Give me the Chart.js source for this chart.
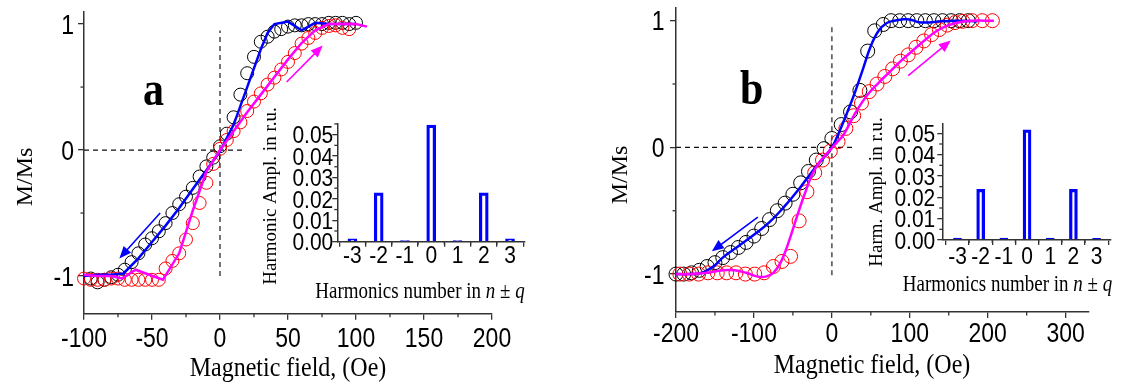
<!DOCTYPE html>
<html>
<head>
<meta charset="utf-8">
<script src="https://cdn.jsdelivr.net/npm/chart.js@4.4.1/dist/chart.umd.min.js"></script>
<style>
  html, body { margin: 0; padding: 0; background: #fff; }
  #wrap { position: relative; width: 1121px; height: 388px; overflow: hidden; }
  canvas { position: absolute; }
</style>
</head>
<body>
<div id="wrap">
  <canvas id="mainA" width="540" height="388" style="left:0px;top:0px"></canvas>
  <canvas id="mainB" width="561" height="388" style="left:560px;top:0px"></canvas>
  <canvas id="insetA" width="290" height="220" style="left:250px;top:100px"></canvas>
  <canvas id="insetB" width="261" height="220" style="left:860px;top:100px"></canvas>
</div>
<script>
// --- DATA : panneau a ---
const aBlackX = [-95,-90,-85,-80,-75,-70,-65,-60,-55,-50,-45,-40,-35,-30,-25,-20,-15,-10,-5,0,5,10,15,20,25,30,35,40,45,50,55,60,65,70,75,80,85,90,95,100];
const aBlackY = [-1.02,-1.05,-1.03,-1.01,-0.99,-0.95,-0.89,-0.82,-0.75,-0.70,-0.645,-0.58,-0.50,-0.43,-0.37,-0.30,-0.21,-0.13,-0.06,0.03,0.13,0.26,0.44,0.61,0.74,0.86,0.90,0.94,0.96,0.98,0.99,0.99,1.0,1.0,1.0,1.01,1.01,1.01,1.0,1.01];
const aRedX = [-100,-95,-90,-85,-80,-75,-70,-65,-60,-55,-50,-45,-40,-35,-30,-25,-20,-15,-10,-5,0,5,10,15,20,25,30,35,40,45,50,55,60,65,70,75,80,85,90,95];
const aRedY = [-1.02,-1.03,-1.03,-1.03,-1.02,-1.02,-1.03,-1.03,-1.03,-1.03,-1.03,-1.03,-0.94,-0.88,-0.82,-0.71,-0.58,-0.42,-0.26,-0.11,0.01,0.08,0.15,0.22,0.31,0.385,0.45,0.52,0.575,0.64,0.70,0.77,0.845,0.89,0.93,0.97,0.985,0.99,0.97,0.96];
const aBlueX = [-100,-90,-80,-71,-60,-50,-40,-30,-20,-10,0,10,20,30,35,40,50,60,70,80,90,100];
const aBlueY = [-1.0,-0.99,-0.99,-0.98,-0.86,-0.73,-0.60,-0.46,-0.31,-0.16,-0.01,0.20,0.50,0.80,0.93,1.0,1.02,0.95,1.01,1.0,1.0,1.0];
const aMagX = [-100,-90,-80,-72,-62,-52,-42,-30,-20,-10,0,10,20,30,40,50,60,70,80,90,100,108];
const aMagY = [-0.99,-1.0,-1.0,-1.02,-0.95,-0.99,-1.03,-0.82,-0.48,-0.17,0.0,0.15,0.30,0.44,0.58,0.72,0.85,0.95,1.0,1.0,1.0,0.98];
const aTicksX = [-100,-50,0,50,100,150,200];
const aMinorX = [-75,-25,25,75,125,175];
const aGuideH = [[-100,0],[17,0]];
const aGuideV = [[0,-1.0],[0,0.95]];
const aArrowBlue = [[-44,-0.50],[-74,-0.86]];
const aArrowMag = [[49,0.54],[75.5,0.83]];

// --- DATA : panneau b ---
const bBlackX = [-200,-190,-180,-170,-160,-150,-140,-130,-120,-110,-100,-90,-80,-70,-60,-50,-40,-30,-20,-10,0,12,24,36,46,55,66,76,87,98,109,120,131,142,153,164,175];
const bBlackY = [-1.0,-1.0,-0.99,-0.97,-0.94,-0.91,-0.87,-0.83,-0.79,-0.75,-0.70,-0.64,-0.57,-0.50,-0.44,-0.37,-0.28,-0.19,-0.10,-0.01,0.07,0.18,0.28,0.45,0.76,0.92,0.97,1.0,1.0,1.0,1.0,1.0,1.0,1.0,1.0,1.0,1.0];
const bRedX = [-195,-183,-171,-159,-147,-135,-123,-111,-99,-87,-75,-64,-53,-42,-32,-22,-12,-2,8,18,28,38,48,58,68,78,88,98,108,118,128,138,148,158,168,180,193,206];
const bRedY = [-1.0,-1.0,-1.0,-0.99,-0.99,-0.99,-0.99,-1.0,-1.0,-0.99,-0.94,-0.90,-0.86,-0.58,-0.35,-0.20,-0.10,-0.03,0.045,0.15,0.25,0.35,0.44,0.50,0.56,0.62,0.68,0.73,0.79,0.84,0.89,0.93,0.965,0.985,0.995,1.0,1.0,1.0];
const bBlueX = [-200,-185,-170,-160,-150,-140,-120,-100,-80,-60,-40,-20,0,10,20,30,40,50,60,70,80,90,100,110,120,140,160,187];
const bBlueY = [-1.0,-1.0,-0.995,-0.97,-0.93,-0.87,-0.78,-0.69,-0.59,-0.46,-0.31,-0.15,0.0,0.13,0.28,0.44,0.62,0.80,0.92,0.98,1.0,1.01,1.01,0.99,0.985,0.995,1.0,0.995];
const bMagX = [-200,-180,-160,-140,-125,-110,-95,-85,-75,-65,-55,-45,-35,-25,-15,-5,5,15,30,45,60,75,90,105,120,135,150,165,180,195,208];
const bMagY = [-1.0,-1.0,-0.99,-0.97,-0.97,-0.99,-1.02,-1.02,-0.99,-0.90,-0.74,-0.55,-0.37,-0.21,-0.11,-0.04,0.03,0.10,0.27,0.41,0.51,0.60,0.69,0.77,0.85,0.92,0.965,0.99,1.0,1.0,1.0];
const bTicksX = [-200,-100,0,100,200,300];
const bMinorX = [-150,-50,50,150,250];
const bGuideH = [[-200,0],[29,0]];
const bGuideV = [[0,-1.01],[0,0.96]];
const bArrowBlue = [[-95,-0.55],[-154,-0.82]];
const bArrowMag = [[98,0.567],[152.6,0.843]];

const mainTicksY = [-1,0,1];
const mainMinorY = [-0.5,0.5];

// --- DATA : encarts (harmoniques) ---
const harmN = [-3,-2,-1,0,1,2,3];
const aHarm = [0.0013,0.0228,0.0005,0.0545,0.0005,0.0228,0.0013];
const bHarm = [0.0009,0.0238,0.0009,0.0516,0.0009,0.0238,0.0008];
const harmTicksY = [0,0.01,0.02,0.03,0.04,0.05];
const harmMinorX = [-2.5,-1.5,-0.5,0.5,1.5,2.5];
const aHarmMinorY = [0.005,0.015,0.025,0.035,0.045,0.055];
const bHarmMinorY = [0.005,0.015,0.025,0.035,0.045];

// --- STYLE ---
const SANS = '"Liberation Sans", Arial, sans-serif';
const SERIF = '"Liberation Serif", "Times New Roman", serif';
const AXIS = '#333';
const BLUE = '#0000ff', MAGENTA = '#ff00ff', RED = '#ff0000';
const K = 1.17;   // la figure d'origine est etiree verticalement

const pts = (xs, ys) => xs.map((x, i) => ({ x: x, y: ys[i] }));
const pairs = p => p.map(v => ({ x: v[0], y: v[1] }));

// Plugin : libelles des graduations, petites graduations, fleches et textes
const decor = {
    id: 'decor',
    afterDraw(chart, args, o) {
        const ctx = chart.ctx;
        const sx = chart.scales.x, sy = chart.scales.y;
        const area = chart.chartArea;
        ctx.save();
        ctx.strokeStyle = AXIS; ctx.lineWidth = 1.3;
        (o.minorX || []).forEach(v => {
            const px = sx.getPixelForValue(v);
            ctx.beginPath(); ctx.moveTo(px, area.bottom); ctx.lineTo(px, area.bottom + o.minorLen); ctx.stroke();
        });
        (o.minorY || []).forEach(v => {
            const py = sy.getPixelForValue(v);
            ctx.beginPath(); ctx.moveTo(area.left, py); ctx.lineTo(area.left - o.minorLen, py); ctx.stroke();
        });
        (o.arrows || []).forEach(a => {
            arrow(ctx, sx.getPixelForValue(a.p[0][0]), sy.getPixelForValue(a.p[0][1]),
                       sx.getPixelForValue(a.p[1][0]), sy.getPixelForValue(a.p[1][1]), a.color);
        });
        const xl = o.xLabels, yl = o.yLabels;
        if (xl) {
            const f = xl.size + 'px ' + SANS;
            xl.values.forEach(v => drawText(ctx, { parts: [[xl.fmt(v), f]], x: sx.getPixelForValue(v), y: area.bottom + xl.base, k: K }));
        }
        if (yl) {
            const f = yl.size + 'px ' + SANS;
            const half = 0.716 * yl.size * K / 2;
            yl.values.forEach(v => drawText(ctx, { parts: [[yl.fmt(v), f]], x: area.left - yl.gap, y: sy.getPixelForValue(v) + half, k: K, align: 'right' }));
        }
        (o.texts || []).forEach(t => drawText(ctx, t));
        ctx.restore();
    }
};

function arrow(ctx, x0, y0, x1, y1, color) {
    const ang = Math.atan2(y1 - y0, x1 - x0), L = 12, W = 5;
    const c = Math.cos(ang), s = Math.sin(ang);
    ctx.strokeStyle = color; ctx.fillStyle = color; ctx.lineWidth = 1.6;
    ctx.beginPath(); ctx.moveTo(x0, y0); ctx.lineTo(x1 - L * 0.8 * c, y1 - L * 0.8 * s); ctx.stroke();
    ctx.beginPath(); ctx.moveTo(x1, y1);
    ctx.lineTo(x1 - L * c + W * s, y1 - L * s - W * c);
    ctx.lineTo(x1 - L * c - W * s, y1 - L * s + W * c);
    ctx.closePath(); ctx.fill();
}

function drawText(ctx, t) {
    ctx.save();
    ctx.translate(t.x, t.y);
    if (t.rot) ctx.rotate(t.rot);
    if (t.k) ctx.scale(1, t.k);
    ctx.fillStyle = '#000';
    ctx.textAlign = 'left';
    ctx.textBaseline = 'alphabetic';
    let w = 0;
    t.parts.forEach(p => { ctx.font = p[1]; w += ctx.measureText(p[0]).width; });
    let x = t.align === 'left' ? 0 : (t.align === 'right' ? -w : -w / 2);
    t.parts.forEach(p => { ctx.font = p[1]; ctx.fillText(p[0], x, 0); x += ctx.measureText(p[0]).width; });
    ctx.restore();
}

// axe generique : position de la zone de trace fixee a la main
function axis(o) {
    return {
        type: 'linear', min: o.min, max: o.max,
        afterBuildTicks: s => { s.ticks = o.ticks.map(v => ({ value: v })); },
        afterFit: s => {
            if (s.isHorizontal()) s.height = o.size; else s.width = o.size;
            s.paddingTop = 0; s.paddingBottom = 0; s.paddingLeft = 0; s.paddingRight = 0;
        },
        ticks: { display: false, autoSkip: false, maxRotation: 0 },
        grid: { drawOnChartArea: false, drawTicks: true, tickLength: o.tl, color: AXIS, lineWidth: 1.3 },
        border: { display: true, color: AXIS, width: 1.5 }
    };
}

function lineSet(xs, ys, color, tension, order) {
    return { data: pts(xs, ys), showLine: true, borderColor: color, borderWidth: 2.5,
             pointRadius: 0, tension: tension, order: order, clip: false };
}
function circleSet(xs, ys, color, r, order) {
    return { data: pts(xs, ys), showLine: false, pointStyle: 'circle', pointRadius: r,
             borderColor: color, borderWidth: 1, backgroundColor: 'rgba(0,0,0,0)', order: order, clip: false };
}
function guideSet(p, color, width) {
    return { data: pairs(p), showLine: true, borderColor: color, borderWidth: width, borderDash: [5, 4],
             pointRadius: 0, order: 6, clip: false };
}

function mainChart(id, c) {
    const cv = document.getElementById(id);
    return new Chart(cv, {
        type: 'scatter',
        data: { datasets: [
            lineSet(c.magX, c.magY, MAGENTA, c.tension, 1),
            lineSet(c.blueX, c.blueY, BLUE, c.tension, 2),
            circleSet(c.redX, c.redY, RED, c.r, 3),
            circleSet(c.blackX, c.blackY, '#000', c.r, 4),
            guideSet(c.guideH, '#111', 1.3),
            guideSet(c.guideV, '#666', 1.8)
        ]},
        options: {
            responsive: false, animation: false, devicePixelRatio: 1, events: [],
            layout: { padding: { left: 0, top: c.area.top, right: cv.width - c.area.right, bottom: 0 } },
            scales: {
                x: axis({ min: c.xMin, max: c.xMax, ticks: c.ticksX, size: cv.height - c.area.bottom, tl: 6 }),
                y: axis({ min: -1.3, max: 1.1, ticks: mainTicksY, size: c.area.left, tl: 6 })
            },
            plugins: {
                legend: { display: false }, tooltip: { enabled: false },
                decor: { minorX: c.minorX, minorY: mainMinorY, minorLen: 3.5,
                         xLabels: { values: c.ticksX, size: 23, base: c.xBase, fmt: v => String(v) },
                         yLabels: { values: mainTicksY, size: 23, gap: c.yGap, fmt: v => String(v) },
                         arrows: [{ p: c.arrowBlue, color: BLUE }, { p: c.arrowMag, color: MAGENTA }],
                         texts: c.texts }
            }
        },
        plugins: [decor]
    });
}

function insetChart(id, c) {
    const cv = document.getElementById(id);
    return new Chart(cv, {
        type: 'bar',
        data: { datasets: [{
            data: pts(harmN, c.values), backgroundColor: 'rgba(0,0,0,0)', borderColor: BLUE,
            borderWidth: 2.6, barThickness: c.bar
        }]},
        options: {
            responsive: false, animation: false, devicePixelRatio: 1, events: [],
            layout: { padding: { left: 0, top: c.area.top, right: cv.width - c.area.right, bottom: 0 } },
            scales: {
                x: axis({ min: c.xMin, max: c.xMax, ticks: harmN, size: cv.height - c.area.bottom, tl: 5 }),
                y: axis({ min: 0, max: c.yMax, ticks: harmTicksY, size: c.area.left, tl: 5 })
            },
            plugins: {
                legend: { display: false }, tooltip: { enabled: false },
                decor: { minorX: harmMinorX, minorY: c.minorY, minorLen: 3,
                         xLabels: { values: harmN, size: c.font, base: c.xBase, fmt: v => String(v) },
                         yLabels: { values: harmTicksY, size: c.font, gap: c.yGap, fmt: v => v.toFixed(2) },
                         texts: c.texts }
            }
        },
        plugins: [decor]
    });
}

const fTitle = '24px ' + SERIF;
const fLetter = 'bold 42px ' + SERIF;
const fSmall = '19px ' + SERIF;
const fSmallI = 'italic 19px ' + SERIF;
const harmTitle = [['Harmonics number in ', fSmall], ['n', fSmallI], [' \u00b1 ', fSmall], ['q', fSmallI]];

mainChart('mainA', {
    blackX: aBlackX, blackY: aBlackY, redX: aRedX, redY: aRedY,
    blueX: aBlueX, blueY: aBlueY, magX: aMagX, magY: aMagY, tension: 0, r: 6.5,
    guideH: aGuideH, guideV: aGuideV, arrowBlue: aArrowBlue, arrowMag: aArrowMag,
    xMin: -100, xMax: 200, ticksX: aTicksX, minorX: aMinorX,
    area: { left: 84, top: 11.5, right: 492, bottom: 313.8 }, xBase: 33, yGap: 10,
    texts: [
        { parts: [['M/Ms', fTitle]], x: 32, y: 177, rot: -Math.PI / 2 },
        { parts: [['Magnetic field, (Oe)', fTitle]], x: 288, y: 376, k: K },
        { parts: [['a', fLetter]], x: 143, y: 105, align: 'left', k: K }
    ]
});

mainChart('mainB', {
    blackX: bBlackX, blackY: bBlackY, redX: bRedX, redY: bRedY,
    blueX: bBlueX, blueY: bBlueY, magX: bMagX, magY: bMagY, tension: 0.4, r: 7,
    guideH: bGuideH, guideV: bGuideV, arrowBlue: bArrowBlue, arrowMag: bArrowMag,
    xMin: -200, xMax: 330, ticksX: bTicksX, minorX: bMinorX,
    area: { left: 116, top: 7.3, right: 529, bottom: 312.1 }, xBase: 29.6, yGap: 11.5,
    texts: [
        { parts: [['M/Ms', fTitle]], x: 67, y: 175, rot: -Math.PI / 2 },
        { parts: [['Magnetic field, (Oe)', fTitle]], x: 312, y: 373, k: K },
        { parts: [['b', fLetter]], x: 180, y: 104, align: 'left', k: K }
    ]
});

insetChart('insetA', {
    values: aHarm, bar: 9, font: 21, xMin: -3.065, xMax: 3.06, yMax: 0.0553,
    minorY: aHarmMinorY, area: { left: 87.3, top: 23.3, right: 275, bottom: 141.7 }, xBase: 21.5, yGap: 4,
    texts: [
        { parts: harmTitle, x: 170, y: 198, k: K },
        { parts: [['Harmonic Ampl. in r.u.', fSmall]], x: 26, y: 96, rot: -Math.PI / 2 }
    ]
});

insetChart('insetB', {
    values: bHarm, bar: 8, font: 21, xMin: -3.137, xMax: 3.09, yMax: 0.0547,
    minorY: bHarmMinorY, area: { left: 82.3, top: 23.3, right: 250.7, bottom: 140 }, xBase: 23.5, yGap: 7,
    texts: [
        { parts: harmTitle, x: 147.5, y: 190.5, k: K },
        { parts: [['Harm. Ampl. in r.u.', fSmall]], x: 22, y: 92, rot: -Math.PI / 2 }
    ]
});
</script>
</body>
</html>
